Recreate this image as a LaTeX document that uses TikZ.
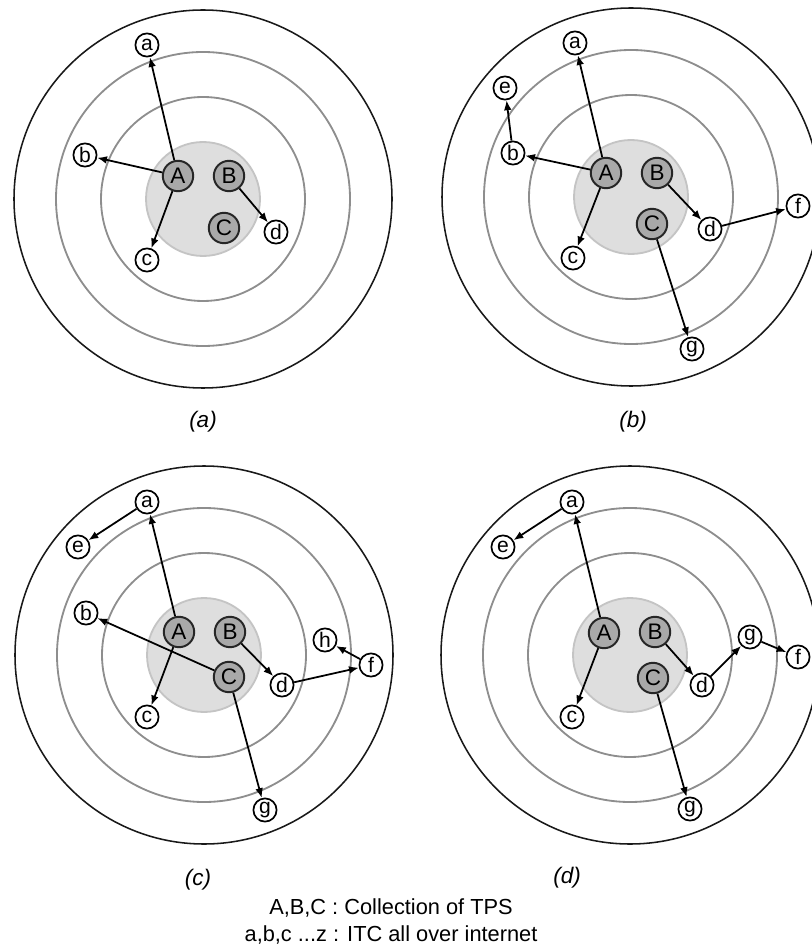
\documentclass[tikz,border=0pt]{standalone}
\usepackage{fontspec}
\setmainfont{Liberation Sans}
\usetikzlibrary{arrows.meta,positioning}
\usepackage{xcolor}
\definecolor{ringgray}{HTML}{8E8E8E}
\definecolor{corefill}{HTML}{DEDEDE}
\definecolor{coreline}{HTML}{C4C4C4}
\definecolor{tpsgray}{HTML}{A9A9A9}

\begin{document}
\begin{tikzpicture}[x=0.025cm,y=0.025cm]
  \tikzstyle{outer} = [draw=black!90, line width=1.1pt]
  \tikzstyle{ring} = [draw=ringgray, line width=1.3pt]
  \tikzstyle{core} = [draw=coreline, fill=corefill, line width=1.3pt]
  \tikzstyle{tps} = [circle, draw=black!85, fill=tpsgray, line width=1.4pt, minimum size=0.76cm, inner sep=0pt, font=\fontsize{16}{16}\selectfont]
  \tikzstyle{itc} = [circle, draw=black, fill=white, line width=1.2pt, minimum size=0.58cm, inner sep=0pt, font=\fontsize{15}{15}\selectfont]
  \tikzstyle{link} = [-{Latex[length=7pt,width=5.5pt]}, line width=1.25pt]
  \tikzstyle{caption} = [font=\fontsize{16}{16}\selectfont\itshape]

  \useasboundingbox (0,0) rectangle (811,-951);

  % (a)
  \begin{scope}[shift={(203,-199)}]
    \draw[outer] (0,0) circle (189);
    \draw[ring] (0,0) circle (147);
    \draw[ring] (0,0) circle (102);
    \draw[core] (0,0) circle (57);
    \node[tps] (A1) at (-25,23) {A};
    \node[tps] (B1) at (26,23) {B};
    \node[tps] (C1) at (21,-29) {C};
    \node[itc] (a1) at (-56,154) {a};
    \node[itc] (b1) at (-118,44) {b};
    \node[itc] (c1) at (-56,-61) {c};
    \node[itc] (d1) at (73,-33) {d};
  \end{scope}
  \draw[link] (A1) -- (a1);
  \draw[link] (A1) -- (b1);
  \draw[link] (A1) -- (c1);
  \draw[link] (B1) -- (d1);

  % (b)
  \begin{scope}[shift={(631,-197)}]
    \draw[outer] (0,0) circle (189);
    \draw[ring] (0,0) circle (147);
    \draw[ring] (0,0) circle (102);
    \draw[core] (0,0) circle (57);
    \node[tps] (A2) at (-25,24) {A};
    \node[tps] (B2) at (26,24) {B};
    \node[tps] (C2) at (21,-27) {C};
    \node[itc] (a2) at (-56,154) {a};
    \node[itc] (e2) at (-126,109) {e};
    \node[itc] (b2) at (-118,44) {b};
    \node[itc] (c2) at (-58,-61) {c};
    \node[itc] (d2) at (79,-32) {d};
    \node[itc] (f2) at (167,-9) {f};
    \node[itc] (g2) at (61,-152) {g};
  \end{scope}
  \draw[link] (A2) -- (a2);
  \draw[link] (A2) -- (b2);
  \draw[link] (A2) -- (c2);
  \draw[link] (b2) -- (e2);
  \draw[link] (B2) -- (d2);
  \draw[link] (d2) -- (f2);
  \draw[link] (C2) -- (g2);

  % (c)
  \begin{scope}[shift={(204,-655)}]
    \draw[outer] (0,0) circle (189);
    \draw[ring] (0,0) circle (147);
    \draw[ring] (0,0) circle (102);
    \draw[core] (0,0) circle (57);
    \node[tps] (A3) at (-25,23) {A};
    \node[tps] (B3) at (26,23) {B};
    \node[tps] (C3) at (25,-22) {C};
    \node[itc] (a3) at (-57,153) {a};
    \node[itc] (e3) at (-126,108) {e};
    \node[itc] (b3) at (-118,42) {b};
    \node[itc] (c3) at (-57,-62) {c};
    \node[itc] (d3) at (78,-30) {d};
    \node[itc] (f3) at (167,-10) {f};
    \node[itc] (h3) at (121,15) {h};
    \node[itc] (g3) at (61,-155) {g};
  \end{scope}
  \draw[link] (A3) -- (a3);
  \draw[link] (a3) -- (e3);
  \draw[link] (C3) -- (b3);
  \draw[link] (A3) -- (c3);
  \draw[link] (B3) -- (d3);
  \draw[link] (d3) -- (f3);
  \draw[link] (f3) -- (h3);
  \draw[link] (C3) -- (g3);

  % (d)
  \begin{scope}[shift={(630,-655)}]
    \draw[outer] (0,0) circle (189);
    \draw[ring] (0,0) circle (147);
    \draw[ring] (0,0) circle (102);
    \draw[core] (0,0) circle (57);
    \node[tps] (A4) at (-26,22) {A};
    \node[tps] (B4) at (25,23) {B};
    \node[tps] (C4) at (23,-23) {C};
    \node[itc] (a4) at (-58,153) {a};
    \node[itc] (e4) at (-127,108) {e};
    \node[itc] (c4) at (-58,-62) {c};
    \node[itc] (d4) at (72,-30) {d};
    \node[itc] (gg4) at (120,18) {g};
    \node[itc] (f4) at (168,-2) {f};
    \node[itc] (g4) at (60,-154) {g};
  \end{scope}
  \draw[link] (A4) -- (a4);
  \draw[link] (a4) -- (e4);
  \draw[link] (A4) -- (c4);
  \draw[link] (B4) -- (d4);
  \draw[link] (d4) -- (gg4);
  \draw[link] (gg4) -- (f4);
  \draw[link] (C4) -- (g4);

  % captions
  \node[caption] (capa) at (203,-422) {(a)};
  \node[caption] (capb) at (633,-422) {(b)};
  \node[caption] (capc) at (198,-880) {(c)};
  \node[caption] (capd) at (567,-878) {(d)};
  \node[align=center, font=\fontsize{15.5}{19.2}\selectfont] (legend) at (391,-921)
    {A,B,C : Collection of TPS\\a,b,c ...z : ITC all over internet};
\end{tikzpicture}
\end{document}
